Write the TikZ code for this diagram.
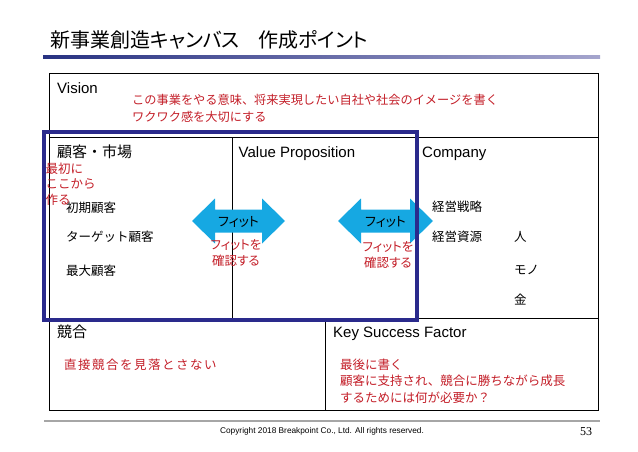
\documentclass[tikz,border=0pt]{standalone}
\usepackage{fontspec}
\setmainfont{Liberation Sans}
\newfontfamily\jp{Noto Sans CJK JP}
\newfontfamily\jpp[RawFeature=+palt]{Noto Sans CJK JP}
\newfontfamily\serifnum{Liberation Serif}
\definecolor{redtxt}{RGB}{195,30,40}
\definecolor{navyrect}{RGB}{42,42,140}
\definecolor{barL}{RGB}{40,50,130}
\definecolor{barR}{RGB}{165,165,205}
\definecolor{fitblue}{RGB}{22,168,226}
\begin{document}
\begin{tikzpicture}[x=1pt,y=-1pt,
  lab/.style={inner sep=0pt, anchor=base west},
  labc/.style={inner sep=0pt, anchor=base},
  ttl/.style={lab, font=\jpp\fontsize{20}{20}\selectfont},
  head/.style={lab, font=\fontsize{15}{15}\selectfont},
  headjp/.style={lab, font=\jp\fontsize{15}{15}\selectfont},
  item/.style={lab, font=\jp\fontsize{12.5}{12.5}\selectfont},
  note/.style={lab, text=redtxt, font=\jp\fontsize{12.5}{12.5}\selectfont},
  notec/.style={labc, text=redtxt, font=\jpp\fontsize{12.5}{12.5}\selectfont},
  fitarrow/.style={fill=fitblue},
  fittext/.style={inner sep=0pt, font=\jpp\fontsize{13}{13}\selectfont},
  grid/.style={draw=black, line width=1pt}
]
\useasboundingbox (0,0) rectangle (638,452);

% title
\node[ttl] (t1) at (50,47.5) {新事業創造キャンバス};
\node[ttl] (t2) at (258,47.5) {作成ポイント};
\fill[left color=barL, right color=barR] (43,55.5) rectangle (600,59);

% table
\draw[grid] (49.5,74) rectangle (598.5,410);
\draw[grid] (49.5,137.5) -- (598.5,137.5);
\draw[grid] (49.5,318.5) -- (598.5,318.5);
\draw[grid] (232,137.5) -- (232,318.5);
\draw[grid] (418,137.5) -- (418,318.5);
\draw[grid] (325,318.5) -- (325,410);

% vision
\node[head] (vis) at (57,93.4) {Vision};
\node[note, font=\jp\fontsize{12.2}{12.2}\selectfont] (v1) at (132,105) {この事業をやる意味、将来実現したい自社や社会のイメージを書く};
\node[note, font=\jp\fontsize{12.2}{12.2}\selectfont] (v2) at (132,121.3) {ワクワク感を大切にする};

% headers
\node[headjp] (cust) at (57,157.3) {顧客・市場};
\node[head] (vp) at (238.5,157.4) {Value Proposition};
\node[head] (comp) at (422,157.4) {Company};

% customer items
\node[item] (c1) at (66,212.6) {初期顧客};
\node[item] (c2) at (66,241.6) {ターゲット顧客};
\node[item] (c3) at (66,275.2) {最大顧客};

% company items
\node[item] (k1) at (432,211.6) {経営戦略};
\node[item] (k2) at (432,241.6) {経営資源};
\node[item] (k3) at (514,241.6) {人};
\node[item] (k4) at (514,274.4) {モノ};
\node[item] (k5) at (514,304.4) {金};

% fit arrows
\fill[fitarrow] (192,221) -- (215,198.5) -- (215,209.5) -- (262,209.5) -- (262,198.5)
  -- (285,221) -- (262,243.5) -- (262,232.5) -- (215,232.5) -- (215,243.5) -- cycle;
\fill[fitarrow] (338,221) -- (361,198.5) -- (361,209.5) -- (410,209.5) -- (410,198.5)
  -- (433,221) -- (410,243.5) -- (410,232.5) -- (361,232.5) -- (361,243.5) -- cycle;
\node[fittext] (f1) at (238.5,221.5) {フィット};
\node[fittext] (f2) at (385.5,221.5) {フィット};
\node[notec] (r1a) at (236,249) {フィットを};
\node[notec] (r1b) at (236,265) {確認する};
\node[notec] (r2a) at (388,251) {フィットを};
\node[notec] (r2b) at (388,267) {確認する};

% first here
\node[note] (s1) at (45.5,173.6) {最初に};
\node[note] (s2) at (45.5,188.8) {ここから};
\node[note] (s3) at (45.5,204.6) {作る};

% blue frame
\draw[navyrect, line width=4pt] (43.5,132) rectangle (417,320);

% bottom row
\node[headjp] (comp2) at (57,337.5) {競合};
\node[head] (ksf) at (333,337.4) {Key Success Factor};
\node[note] (b1) at (64,369.6) {\addfontfeatures{LetterSpace=12}直接競合を見落とさない};
\node[note] (b2) at (340,369.6) {最後に書く};
\node[note] (b3) at (340,385.8) {顧客に支持され、競合に勝ちながら成長};
\node[note] (b4) at (340,402) {するためには何が必要か？};

% footer
\draw[draw=gray!70, line width=1.5pt] (44,421) -- (600,421);
\node[inner sep=0pt, font=\fontsize{8.3}{8.3}\selectfont] (copy) at (322,431.7) {Copyright 2018 Breakpoint Co., Ltd. All rights reserved.};
\node[inner sep=0pt, font=\serifnum\fontsize{12}{12}\selectfont] (pg) at (586,432) {53};
\end{tikzpicture}
\end{document}
